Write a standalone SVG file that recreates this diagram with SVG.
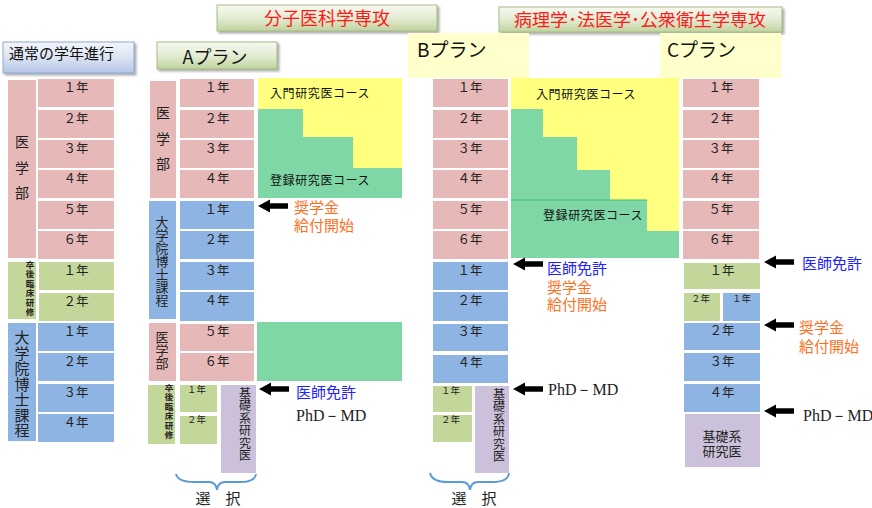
<svg xmlns="http://www.w3.org/2000/svg" xmlns:xlink="http://www.w3.org/1999/xlink" width="872" height="508" viewBox="0 0 872 508">
<defs>
<linearGradient id="gGreen" x1="0" y1="0" x2="0" y2="1"><stop offset="0" stop-color="#F6F9F0"/><stop offset="0.5" stop-color="#E3ECD3"/><stop offset="1" stop-color="#C0D39E"/></linearGradient>
<linearGradient id="gBlue" x1="0" y1="0" x2="0" y2="1"><stop offset="0" stop-color="#F2F5FB"/><stop offset="0.5" stop-color="#DCE4F2"/><stop offset="1" stop-color="#B3C5E6"/></linearGradient>
<filter id="sh" x="-5%" y="-10%" width="115%" height="140%"><feDropShadow dx="2" dy="2" stdDeviation="1.2" flood-color="#777" flood-opacity="0.6"/></filter>
<path id="arr" d="M0,0 L12,-6.5 L12,-2.7 L30,-2.7 L30,2.7 L12,2.7 L12,6.5 Z" fill="#000"/>
</defs>
<style>
text{font-family:"Noto Sans CJK JP","Noto Sans",sans-serif;}
.pk{fill:#E6B9B8;}
.gr{fill:#C4D79B;}
.bl{fill:#8EB4E3;}
.pu{fill:#CCC1DA;}
.ye{fill:#FFFF80;}
.cg{fill:#7FD7A6;}
.hy{fill:#FFFFCC;}
.yr{font-size:12.5px;fill:#222;text-anchor:middle;}
.sy{font-size:9.5px;fill:#222;}
.v{writing-mode:vertical-rl;fill:#222;}
.cs{font-size:12px;fill:#111;letter-spacing:0.6px;}
.or{font-size:15px;fill:#FF6F1E;}
.bu{font-size:15px;fill:#2222FF;}
.o{fill:#FF6F1E;}
.phd{font-family:"Liberation Serif","DejaVu Serif",serif;font-size:16px;fill:#222;}
.hb{stroke:#A7BC85;stroke-width:1;}
.hbb{stroke:#8FAAD3;stroke-width:1;}
.brace{fill:none;stroke:#5B9BD5;stroke-width:2;}
.sel{font-size:15px;fill:#222;text-anchor:middle;}
</style>
<rect width="872" height="508" fill="#fff"/>

<!-- headers -->
<g id="hdr-bunshi"><rect x="217" y="5" width="220" height="26" fill="url(#gGreen)" class="hb" filter="url(#sh)"/><text x="327" y="24.5" font-size="18" fill="#FF1A1A" text-anchor="middle">分子医科学専攻</text></g>
<g id="hdr-byouri"><rect x="499" y="7" width="283" height="25" fill="url(#gGreen)" class="hb" filter="url(#sh)"/><text x="640" y="25.5" font-size="17" fill="#FF1A1A" text-anchor="middle" textLength="252" lengthAdjust="spacingAndGlyphs">病理学･法医学･公衆衛生学専攻</text></g>
<g id="hdr-normal"><rect x="3" y="42" width="131" height="31" fill="url(#gBlue)" class="hbb" filter="url(#sh)"/><text x="9" y="58.5" font-size="15" fill="#111">通常の学年進行</text></g>
<g id="hdr-a"><rect x="157" y="42" width="120" height="27" fill="url(#gGreen)" class="hb" filter="url(#sh)"/><text x="215" y="64" font-size="18" fill="#111" text-anchor="middle">Aプラン</text></g>
<g id="hdr-b"><rect x="408" y="33" width="121" height="45" class="hy"/><text x="417" y="57" font-size="19" fill="#111">Bプラン</text></g>
<g id="hdr-c"><rect x="660" y="33" width="121" height="45" class="hy"/><text x="667" y="57" font-size="19" fill="#111">Cプラン</text></g>

<!-- normal column -->
<g id="normal">
<rect x="8" y="80" width="28" height="178" class="pk"/>
<text x="22" y="135" class="v" font-size="14" letter-spacing="11.5">医学部</text>
<rect x="38" y="79" width="76" height="28" class="pk"/><text x="76" y="91.5" class="yr">１年</text>
<rect x="38" y="110" width="76" height="28" class="pk"/><text x="76" y="122.5" class="yr">２年</text>
<rect x="38" y="140" width="76" height="28" class="pk"/><text x="76" y="152.5" class="yr">３年</text>
<rect x="38" y="170" width="76" height="28" class="pk"/><text x="76" y="182.5" class="yr">４年</text>
<rect x="38" y="201" width="76" height="28" class="pk"/><text x="76" y="213.5" class="yr">５年</text>
<rect x="38" y="231" width="76" height="28" class="pk"/><text x="76" y="243.5" class="yr">６年</text>
<rect x="8" y="262" width="28" height="57" class="gr"/>
<text x="30" y="260.5" class="v" font-size="8.5" font-weight="bold" letter-spacing="1">卒後臨床研修</text>
<rect x="39" y="262" width="75" height="28" class="gr"/><text x="76" y="274.5" class="yr">１年</text>
<rect x="39" y="293" width="75" height="28" class="gr"/><text x="76" y="305.5" class="yr">２年</text>
<rect x="8" y="323" width="28" height="118" class="bl"/>
<text x="22" y="330" class="v" font-size="15" letter-spacing="0.5">大学院博士課程</text>
<rect x="38" y="323" width="76" height="28" class="bl"/><text x="76" y="335.5" class="yr">１年</text>
<rect x="38" y="353" width="76" height="28" class="bl"/><text x="76" y="365.5" class="yr">２年</text>
<rect x="38" y="384" width="76" height="28" class="bl"/><text x="76" y="396.5" class="yr">３年</text>
<rect x="38" y="414" width="76" height="28" class="bl"/><text x="76" y="426.5" class="yr">４年</text>
</g>

<!-- A plan -->
<g id="planA">
<rect x="150" y="81" width="26" height="117" class="pk"/>
<text x="163" y="106" class="v" font-size="14" letter-spacing="11.5">医学部</text>
<rect x="180" y="79" width="74" height="28" class="pk"/><text x="217" y="91.5" class="yr">１年</text>
<rect x="180" y="110" width="74" height="28" class="pk"/><text x="217" y="122.5" class="yr">２年</text>
<rect x="180" y="140" width="74" height="28" class="pk"/><text x="217" y="152.5" class="yr">３年</text>
<rect x="180" y="170" width="74" height="28" class="pk"/><text x="217" y="182.5" class="yr">４年</text>
<rect x="149" y="201" width="27" height="118" class="bl"/>
<text x="162" y="215.5" class="v" font-size="13">大学院博士課程</text>
<rect x="180" y="201" width="74" height="28" class="bl"/><text x="217" y="213.5" class="yr">１年</text>
<rect x="180" y="231" width="74" height="28" class="bl"/><text x="217" y="243.5" class="yr">２年</text>
<rect x="180" y="262" width="74" height="28" class="bl"/><text x="217" y="274.5" class="yr">３年</text>
<rect x="180" y="292" width="74" height="29" class="bl"/><text x="217" y="304.5" class="yr">４年</text>
<rect x="149" y="323" width="27" height="58" class="pk"/>
<text x="162" y="331" class="v" font-size="13">医学部</text>
<rect x="180" y="324" width="74" height="27" class="pk"/><text x="217" y="336" class="yr">５年</text>
<rect x="180" y="353" width="74" height="28" class="pk"/><text x="217" y="365.5" class="yr">６年</text>
<rect x="148" y="385" width="27" height="59" class="gr"/>
<text x="169" y="383.5" class="v" font-size="8.5" font-weight="bold" letter-spacing="1">卒後臨床研修</text>
<rect x="180" y="385" width="37" height="27" class="gr"/><text x="187" y="393" class="sy">１年</text>
<rect x="180" y="416" width="37" height="28" class="gr"/><text x="187" y="423" class="sy">２年</text>
<rect x="221" y="385" width="35" height="88" class="pu"/>
<text x="245" y="387" class="v" font-size="12" letter-spacing="0.5">基礎系研究医</text>
</g>
<g id="courseA">
<rect x="258" y="78" width="144" height="120" class="ye"/>
<path d="M258,109 H303 V137 H353 V168 H402 V198 H258 Z" class="cg"/>
<text x="270" y="97.5" class="cs">入門研究医コース</text>
<text x="270" y="184.5" class="cs">登録研究医コース</text>
<rect x="257" y="322" width="145" height="59" class="cg"/>
</g>
<g id="labelsA">
<text class="or"><tspan x="294" y="212.5">奨学金</tspan><tspan x="294" y="230.5">給付開始</tspan></text>
<text x="296" y="397.5" class="bu">医師免許</text>
<text x="296" y="421" class="phd">PhD－MD</text>
<path d="M176,474 Q178,482 194,482 L209,482 Q216,482 217,490 Q218,482 225,482 L240,482 Q255,482 256,474" class="brace"/>
<text x="218" y="504" class="sel">選　択</text>
</g>

<!-- B plan -->
<g id="planB">
<rect x="433" y="79" width="75" height="28" class="pk"/><text x="470" y="91.5" class="yr">１年</text>
<rect x="433" y="110" width="75" height="28" class="pk"/><text x="470" y="122.5" class="yr">２年</text>
<rect x="433" y="140" width="75" height="28" class="pk"/><text x="470" y="152.5" class="yr">３年</text>
<rect x="433" y="170" width="75" height="28" class="pk"/><text x="470" y="182.5" class="yr">４年</text>
<rect x="433" y="201" width="75" height="28" class="pk"/><text x="470" y="213.5" class="yr">５年</text>
<rect x="433" y="231" width="75" height="28" class="pk"/><text x="470" y="243.5" class="yr">６年</text>
<rect x="433" y="262" width="75" height="28" class="bl"/><text x="470" y="274.5" class="yr">１年</text>
<rect x="433" y="292" width="75" height="29" class="bl"/><text x="470" y="304.5" class="yr">２年</text>
<rect x="433" y="324" width="75" height="27" class="bl"/><text x="470" y="336" class="yr">３年</text>
<rect x="433" y="355" width="75" height="28" class="bl"/><text x="470" y="367" class="yr">４年</text>
<rect x="433" y="386" width="39" height="26" class="gr"/><text x="441" y="394" class="sy">１年</text>
<rect x="433" y="415" width="39" height="27" class="gr"/><text x="441" y="423" class="sy">２年</text>
<rect x="475" y="386" width="34" height="87" class="pu"/>
<text x="499" y="388" class="v" font-size="12" letter-spacing="0.5">基礎系研究医</text>
</g>
<g id="courseB">
<rect x="511" y="78" width="168" height="180" class="ye"/>
<path d="M511,109 H543 V137 H577 V170 H610 V200 H647 V231 H679 V258 H511 Z" class="cg"/>
<line x1="511" y1="200" x2="647" y2="200" stroke="#3DBB70" stroke-width="1"/>
<text x="536" y="98.5" class="cs">入門研究医コース</text>
<text x="543" y="219.5" class="cs">登録研究医コース</text>
</g>
<g id="labelsB">
<text class="bu"><tspan x="547" y="273.5">医師免許</tspan><tspan x="547" y="292.5" class="o">奨学金</tspan><tspan x="547" y="309.5" class="o">給付開始</tspan></text>
<text x="548" y="395" class="phd">PhD－MD</text>
<path d="M430,473 Q432,482 448,482 L462,482 Q469,482 470,490 Q471,482 478,482 L493,482 Q508,482 509,473" class="brace"/>
<text x="474" y="504" class="sel">選　択</text>
</g>

<!-- C plan -->
<g id="planC">
<rect x="683" y="79" width="76" height="28" class="pk"/><text x="721" y="91.5" class="yr">１年</text>
<rect x="683" y="110" width="76" height="28" class="pk"/><text x="721" y="122.5" class="yr">２年</text>
<rect x="683" y="140" width="76" height="28" class="pk"/><text x="721" y="152.5" class="yr">３年</text>
<rect x="683" y="170" width="76" height="28" class="pk"/><text x="721" y="182.5" class="yr">４年</text>
<rect x="683" y="201" width="76" height="28" class="pk"/><text x="721" y="213.5" class="yr">５年</text>
<rect x="683" y="231" width="76" height="28" class="pk"/><text x="721" y="243.5" class="yr">６年</text>
<rect x="684" y="263" width="76" height="26" class="gr"/><text x="722" y="275" class="yr">１年</text>
<rect x="684" y="293" width="36" height="28" class="gr"/><text x="691" y="301.5" class="sy">２年</text>
<rect x="723" y="293" width="37" height="28" class="bl"/><text x="732" y="301.5" class="sy">１年</text>
<rect x="684" y="323" width="76" height="27" class="bl"/><text x="722" y="335" class="yr">２年</text>
<rect x="684" y="353" width="76" height="28" class="bl"/><text x="722" y="365.5" class="yr">３年</text>
<rect x="684" y="384" width="76" height="28" class="bl"/><text x="722" y="396.5" class="yr">４年</text>
<rect x="685" y="414" width="75" height="53" class="pu"/>
<text font-size="13" fill="#222" text-anchor="middle"><tspan x="722" y="441">基礎系</tspan><tspan x="722" y="456">研究医</tspan></text>
</g>
<g id="labelsC">
<text x="802" y="268.5" class="bu">医師免許</text>
<text class="or"><tspan x="799" y="333">奨学金</tspan><tspan x="799" y="352">給付開始</tspan></text>
<text x="803" y="421" class="phd">PhD－MD</text>
</g>

<!-- connectors -->
<g id="connectors">
<use xlink:href="#arr" x="258" y="206"/>
<use xlink:href="#arr" x="259" y="389"/>
<use xlink:href="#arr" x="513" y="264"/>
<use xlink:href="#arr" x="513" y="389"/>
<use xlink:href="#arr" x="764" y="262"/>
<use xlink:href="#arr" x="764" y="325"/>
<use xlink:href="#arr" x="764" y="411"/>
</g>
</svg>
